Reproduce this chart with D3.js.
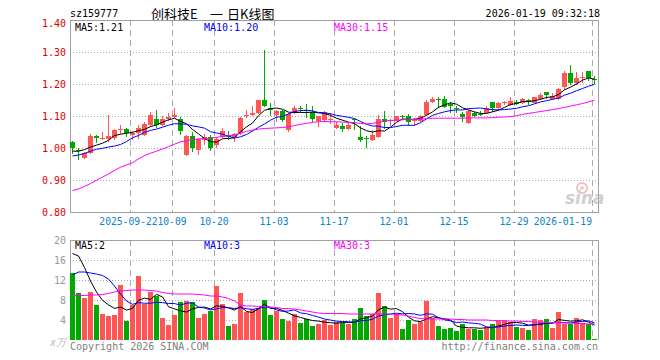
<!DOCTYPE html>
<html>
<head>
<meta charset="utf-8">
<script src="https://cdn.jsdelivr.net/npm/d3@7/dist/d3.min.js"></script>
<style>
html,body{margin:0;padding:0;background:#fff;}
svg{display:block;}
text{font-family:"DejaVu Sans Mono",monospace;font-size:10px;}
</style>
</head>
<body>
<svg id="chart" width="660" height="360"></svg>
<script>
// ---------------- DATA ----------------
const dates = [
"2025-09-08","2025-09-09","2025-09-10","2025-09-11","2025-09-12","2025-09-15","2025-09-16","2025-09-17","2025-09-18","2025-09-19",
"2025-09-22","2025-09-23","2025-09-24","2025-09-25","2025-09-26","2025-09-29","2025-09-30","2025-10-09","2025-10-10","2025-10-13",
"2025-10-14","2025-10-15","2025-10-16","2025-10-17","2025-10-20","2025-10-21","2025-10-22","2025-10-23","2025-10-24","2025-10-27",
"2025-10-28","2025-10-29","2025-10-30","2025-10-31","2025-11-03","2025-11-04","2025-11-05","2025-11-06","2025-11-07","2025-11-10",
"2025-11-11","2025-11-12","2025-11-13","2025-11-14","2025-11-17","2025-11-18","2025-11-19","2025-11-20","2025-11-21","2025-11-24",
"2025-11-25","2025-11-26","2025-11-27","2025-11-28","2025-12-01","2025-12-02","2025-12-03","2025-12-04","2025-12-05","2025-12-08",
"2025-12-09","2025-12-10","2025-12-11","2025-12-12","2025-12-15","2025-12-16","2025-12-17","2025-12-18","2025-12-19","2025-12-22",
"2025-12-23","2025-12-24","2025-12-25","2025-12-26","2025-12-29","2025-12-30","2025-12-31","2026-01-05","2026-01-06","2026-01-07",
"2026-01-08","2026-01-09","2026-01-12","2026-01-13","2026-01-14","2026-01-15","2026-01-16","2026-01-19"];

const open = [1.018,0.995,0.970,0.984,1.038,1.029,1.028,1.030,1.055,1.060,
1.040,1.047,1.041,1.072,1.090,1.072,1.090,1.097,1.090,0.978,
1.037,0.994,1.025,1.033,1.010,1.035,1.040,1.035,1.046,1.100,
1.103,1.108,1.150,1.125,1.103,1.117,1.056,1.110,1.126,1.118,
1.114,1.085,1.088,1.087,1.062,1.069,1.058,1.090,1.035,1.030,
1.025,1.035,1.090,1.083,1.085,1.100,1.100,1.083,1.085,1.103,
1.143,1.153,1.152,1.137,1.125,1.106,1.077,1.110,1.105,1.110,
1.145,1.124,1.140,1.134,1.145,1.140,1.149,1.142,1.152,1.176,
1.152,1.152,1.192,1.235,1.204,1.220,1.241,1.217];
const high = [1.022,1.000,0.988,1.043,1.040,1.050,1.103,1.060,1.072,1.062,
1.053,1.072,1.080,1.113,1.120,1.100,1.110,1.124,1.098,1.040,
1.051,1.030,1.045,1.040,1.035,1.062,1.054,1.048,1.097,1.120,
1.130,1.150,1.306,1.140,1.120,1.120,1.110,1.130,1.130,1.138,
1.131,1.100,1.117,1.110,1.082,1.077,1.077,1.093,1.069,1.037,
1.056,1.103,1.117,1.090,1.100,1.103,1.106,1.093,1.104,1.150,
1.160,1.158,1.162,1.145,1.130,1.113,1.120,1.114,1.117,1.130,
1.145,1.145,1.148,1.160,1.150,1.155,1.152,1.160,1.171,1.176,
1.171,1.186,1.242,1.259,1.238,1.236,1.241,1.224];
const low = [0.980,0.962,0.966,0.980,1.015,1.025,1.020,1.025,1.045,1.035,
1.025,1.028,1.037,1.065,1.062,1.070,1.083,1.093,1.040,0.975,
0.989,0.978,1.010,0.992,1.000,1.030,1.025,1.020,1.040,1.095,
1.100,1.105,1.128,1.100,1.082,1.080,1.050,1.106,1.113,1.093,
1.082,1.065,1.082,1.075,1.058,1.051,1.056,1.056,1.020,0.999,
1.022,1.030,1.058,1.068,1.083,1.090,1.069,1.068,1.080,1.100,
1.140,1.124,1.124,1.110,1.108,1.082,1.075,1.098,1.100,1.106,
1.114,1.119,1.134,1.131,1.134,1.138,1.134,1.140,1.150,1.152,
1.150,1.150,1.180,1.197,1.197,1.204,1.210,1.200];
const close = [1.001,0.990,0.984,1.038,1.030,1.032,1.038,1.056,1.060,1.046,
1.046,1.063,1.076,1.103,1.072,1.090,1.098,1.103,1.052,1.037,
1.000,1.027,1.035,1.000,1.027,1.054,1.035,1.044,1.095,1.104,
1.110,1.150,1.132,1.118,1.117,1.088,1.106,1.124,1.122,1.115,
1.091,1.100,1.114,1.090,1.072,1.059,1.072,1.087,1.025,1.027,
1.041,1.090,1.080,1.087,1.100,1.097,1.080,1.087,1.100,1.145,
1.152,1.150,1.129,1.130,1.122,1.098,1.117,1.100,1.102,1.124,
1.124,1.142,1.143,1.148,1.138,1.152,1.146,1.158,1.166,1.166,
1.162,1.183,1.235,1.204,1.218,1.222,1.218,1.213];

const ma5 = [0.990,0.990,0.995,1.003,1.009,1.015,1.024,1.039,1.043,1.046,
1.049,1.054,1.058,1.067,1.072,1.081,1.088,1.093,1.083,1.076,
1.058,1.044,1.030,1.020,1.018,1.029,1.030,1.032,1.051,1.066,
1.078,1.101,1.118,1.123,1.125,1.121,1.112,1.111,1.111,1.111,
1.112,1.110,1.108,1.102,1.093,1.087,1.081,1.076,1.063,1.054,
1.050,1.054,1.053,1.065,1.080,1.091,1.089,1.090,1.093,1.102,
1.113,1.127,1.135,1.141,1.137,1.126,1.119,1.113,1.108,1.108,
1.113,1.118,1.127,1.136,1.139,1.145,1.145,1.148,1.152,1.158,
1.160,1.167,1.182,1.190,1.200,1.212,1.219,1.215];
const ma10 = [0.975,0.978,0.983,0.990,0.996,0.999,1.003,1.006,1.011,1.020,
1.032,1.039,1.049,1.055,1.059,1.065,1.071,1.076,1.075,1.074,
1.069,1.066,1.062,1.051,1.047,1.043,1.037,1.031,1.035,1.042,
1.053,1.065,1.075,1.087,1.096,1.099,1.106,1.114,1.117,1.118,
1.116,1.111,1.110,1.107,1.102,1.099,1.096,1.092,1.083,1.074,
1.069,1.068,1.064,1.064,1.067,1.071,1.071,1.071,1.079,1.091,
1.102,1.108,1.113,1.117,1.119,1.119,1.123,1.124,1.125,1.122,
1.120,1.119,1.120,1.122,1.124,1.129,1.132,1.138,1.144,1.148,
1.152,1.156,1.165,1.171,1.179,1.186,1.193,1.199];
const ma30 = [0.867,0.872,0.880,0.889,0.899,0.909,0.919,0.930,0.940,0.947,
0.954,0.966,0.976,0.984,0.990,0.997,1.004,1.012,1.019,1.023,
1.026,1.028,1.030,1.031,1.033,1.036,1.038,1.041,1.046,1.052,
1.056,1.059,1.061,1.062,1.063,1.064,1.066,1.070,1.074,1.077,
1.080,1.082,1.083,1.082,1.082,1.081,1.080,1.079,1.077,1.075,
1.077,1.080,1.084,1.086,1.087,1.088,1.089,1.089,1.090,1.092,
1.093,1.093,1.093,1.093,1.093,1.093,1.094,1.094,1.094,1.094,
1.095,1.096,1.097,1.098,1.101,1.105,1.108,1.111,1.114,1.117,
1.120,1.123,1.127,1.131,1.135,1.139,1.144,1.150];

// volume, in 万
const volume = [13.5,9.4,8.5,9.6,7.0,5.2,4.8,5.0,11.0,3.9,
7.0,12.8,7.2,9.7,8.9,4.5,3.0,5.0,7.7,7.8,
7.7,4.4,5.3,5.9,10.8,7.3,2.8,3.2,9.5,5.7,
6.3,6.5,8.0,5.0,5.9,4.2,3.8,5.2,3.5,4.2,
2.8,3.2,4.1,3.0,3.7,3.5,3.3,4.2,6.4,4.8,
5.3,9.5,6.8,4.5,5.3,2.2,4.0,3.2,3.7,7.9,
4.5,2.8,2.3,2.5,1.8,3.3,2.3,2.3,2.0,2.5,
3.3,3.9,4.0,3.7,2.7,2.5,2.0,4.2,4.0,4.2,
2.5,5.6,3.3,3.3,4.5,3.5,3.3,0.2];
const vma5 = [17.3,16.8,14.5,11.8,9.6,7.94,7.02,6.32,6.6,5.98,
6.34,7.94,8.38,8.12,9.12,8.62,6.66,6.22,5.82,5.6,
6.24,6.52,6.58,6.22,6.82,6.74,6.42,6.0,6.72,5.7,
5.5,6.24,7.2,6.3,6.34,5.92,5.38,4.82,4.52,4.18,
3.9,3.78,3.56,3.46,3.36,3.5,3.52,3.54,4.22,4.44,
4.8,6.04,6.56,6.18,6.28,5.66,4.56,3.84,3.68,4.2,
4.66,4.42,4.24,4.0,2.78,2.54,2.44,2.44,2.34,2.48,
2.48,2.8,3.14,3.48,3.52,3.36,2.98,3.02,3.08,3.38,
3.38,4.1,3.92,3.78,3.84,4.04,3.58,2.96];
const vma10 = [13.0,13.6,13.6,13.4,13.2,12.9,12.2,10.8,9.2,7.79,
7.14,7.48,7.35,7.36,7.55,7.48,7.3,7.3,6.97,7.36,
7.43,6.59,6.4,6.02,6.21,6.49,6.47,6.29,6.47,6.26,
6.12,6.33,6.6,6.51,6.02,5.71,5.81,6.01,5.41,5.26,
4.91,4.58,4.19,3.99,3.77,3.7,3.65,3.55,3.84,3.9,
4.15,4.78,5.05,5.2,5.36,5.23,5.3,5.2,4.93,5.24,
5.16,4.49,4.04,3.84,3.49,3.6,3.43,3.34,3.17,2.63,
2.51,2.62,2.79,2.91,3.0,2.92,2.89,3.08,3.28,3.45,
3.37,3.54,3.47,3.43,3.61,3.71,3.84,3.44];
const vma30 = [8.9,8.9,8.9,9.0,9.0,9.1,9.3,9.6,9.8,9.9,
10.0,10.0,10.0,9.9,9.8,9.5,9.3,9.2,9.2,9.2,
9.2,9.1,9.0,8.8,8.8,8.6,8.3,7.8,7.0,6.8,
6.8,6.7,6.7,6.6,6.5,6.3,6.3,6.2,6.0,5.8,
5.6,5.4,5.3,5.3,5.3,5.3,5.2,5.2,5.2,5.2,
5.2,5.2,5.2,5.2,5.1,5.0,4.8,4.5,4.3,4.2,
4.2,4.2,4.2,4.2,4.1,4.1,4.0,4.0,4.0,4.0,
3.9,3.9,3.8,3.8,3.8,3.7,3.7,3.6,3.6,3.5,
3.5,3.5,3.4,3.4,3.3,3.3,3.2,3.2];

const priceTicks = [0.80,0.90,1.00,1.10,1.20,1.30,1.40];
const volTicks = [4,8,12,16,20];
const tickDates = ["2025-09-22","2025-10-09","2025-10-20","2025-11-03","2025-11-17","2025-12-01","2025-12-15","2025-12-29","2026-01-19"];
const tickLabels = ["2025-09-22","10-09","10-20","11-03","11-17","12-01","12-15","12-29","2026-01-19"];

const headerCode = "sz159777";
const headerTitleParts = ["创科技E", "一", "日K线图"];
const headerTime = "2026-01-19 09:32:18";
const priceMALabels = ["MA5:1.21","MA10:1.20","MA30:1.15"];
const volMALabels = ["MA5:2","MA10:3","MA30:3"];
const volUnit = "x万";
const footerLeft = "Copyright 2026 SINA.COM";
const footerRight = "http://finance.sina.com.cn";

// ---------------- LAYOUT ----------------
const L = 70, R = 598;
const pTop = 20, pBot = 212;
const vTop = 240, vBot = 340;
const UP = "#ff5555", DOWN = "#00a800";
const GRID = "#aaaaaa", FRAME = "#a0a0a0";
const maColors = ["#000000", "#0000ff", "#ff00ff"];

const svg = d3.select("#chart");
const n = dates.length;
const x = d3.scaleLinear().domain([0, n]).range([L, R]);
const bw = 5;
const cx = i => x(i) + bw / 2;
const yP = d3.scaleLinear().domain([0.8, 1.4]).range([pBot, pTop]);
const yV = d3.scaleLinear().domain([0, 20]).range([vBot, vTop]);
const tickIdx = tickDates.map(d => dates.indexOf(d));

// header
svg.append("text").attr("x", 70).attr("y", 17).attr("fill", "#000").text(headerCode);
const title = svg.append("text").attr("y", 19).attr("fill", "#000")
  .style("font-family", "'Noto Sans CJK SC', sans-serif").style("font-size", "13px");
const titleX = [151, 210, 227];
headerTitleParts.forEach((t, k) => title.append("tspan").attr("x", titleX[k]).text(t));
svg.append("text").attr("x", 600).attr("y", 17).attr("text-anchor", "end").attr("fill", "#000").text(headerTime);

// ---------- price pane grid ----------
const gP = svg.append("g").attr("shape-rendering", "crispEdges");
gP.selectAll("line.h").data(priceTicks.filter(t => t > 0.85 && t < 1.35)).join("line")
  .attr("x1", L).attr("x2", R).attr("y1", d => Math.round(yP(d)) + 0.5).attr("y2", d => Math.round(yP(d)) + 0.5)
  .attr("stroke", GRID).attr("stroke-dasharray", "1,2");
gP.selectAll("line.v").data(tickIdx).join("line")
  .attr("x1", d => x(d) + 0.5).attr("x2", d => x(d) + 0.5).attr("y1", pTop).attr("y2", pBot)
  .attr("stroke", GRID).attr("stroke-dasharray", "6,4");
gP.append("path").attr("d", `M${L + 0.5},${pBot}V${pTop + 0.5}H${R + 0.5}V${pBot}`)
  .attr("fill", "none").attr("stroke", FRAME).attr("stroke-width", 1.5);
gP.append("line").attr("x1", L).attr("x2", R + 1).attr("y1", pBot + 0.5).attr("y2", pBot + 0.5)
  .attr("stroke", FRAME).attr("stroke-width", 1.5);

// price labels
svg.selectAll("text.pl").data(priceTicks).join("text")
  .attr("x", 66).attr("y", d => Math.max(yP(d) + 4, 27)).attr("text-anchor", "end")
  .attr("fill", "#e00000").text(d => d.toFixed(2));

// date labels: centred on their gridline; the first is nudged left, the last is right-aligned to stay in frame
const last = tickIdx.length - 1;
svg.selectAll("text.dl").data(tickIdx).join("text")
  .attr("x", (d, k) => x(d) + (k === 0 ? -1.5 : 0)).attr("y", 225)
  .attr("text-anchor", (d, k) => k === last ? "end" : "middle")
  .style("font-size", "9.7px")
  .attr("fill", "#0a84cc").text((d, k) => tickLabels[k]);

// watermark
const wm = svg.append("g").attr("opacity", 0.55);
wm.append("circle").attr("cx", 582).attr("cy", 188).attr("r", 5).attr("fill", "none").attr("stroke", "#e88").attr("stroke-width", 2);
wm.append("circle").attr("cx", 582).attr("cy", 188).attr("r", 1.8).attr("fill", "#e88");
wm.append("text").attr("x", 565).attr("y", 204).attr("fill", "#aaa")
  .style("font-family", "'DejaVu Sans', sans-serif").style("font-size", "17px")
  .style("font-style", "italic").style("font-weight", "bold").text("sina");

// candles
const idx = d3.range(n);
const gC = svg.append("g").attr("shape-rendering", "crispEdges");
const colorOf = i => close[i] >= open[i] ? UP : DOWN;
gC.selectAll("line.w").data(idx).join("line")
  .attr("x1", i => x(i) + 2.5).attr("x2", i => x(i) + 2.5)
  .attr("y1", i => yP(high[i])).attr("y2", i => yP(low[i]))
  .attr("stroke", colorOf);
gC.selectAll("rect.b").data(idx).join("rect")
  .attr("x", i => x(i)).attr("width", bw)
  .attr("y", i => yP(Math.max(open[i], close[i])))
  .attr("height", i => Math.max(1, Math.abs(yP(open[i]) - yP(close[i]))))
  .attr("fill", colorOf);

// MA lines (price)
const lineP = d3.line().x((d, i) => cx(i)).y(d => yP(d));
[ma5, ma10, ma30].forEach((arr, k) => {
  svg.append("path").attr("d", lineP(arr)).attr("fill", "none")
    .attr("stroke", maColors[k]).attr("stroke-width", 1);
});

const maLabX = [75, 204, 334];
priceMALabels.forEach((t, k) => svg.append("text").attr("x", maLabX[k]).attr("y", 31).attr("fill", maColors[k]).text(t));

// ---------- volume pane ----------
const gV = svg.append("g").attr("shape-rendering", "crispEdges");
gV.selectAll("line.h").data(volTicks.filter(t => t < 20)).join("line")
  .attr("x1", L).attr("x2", R).attr("y1", d => Math.round(yV(d)) + 0.5).attr("y2", d => Math.round(yV(d)) + 0.5)
  .attr("stroke", GRID).attr("stroke-dasharray", "1,2");
gV.selectAll("line.v").data(tickIdx).join("line")
  .attr("x1", d => x(d) + 0.5).attr("x2", d => x(d) + 0.5).attr("y1", vTop).attr("y2", vBot)
  .attr("stroke", GRID).attr("stroke-dasharray", "6,4");
gV.append("path").attr("d", `M${L + 0.5},${vBot}V${vTop + 0.5}H${R + 0.5}V${vBot}`)
  .attr("fill", "none").attr("stroke", FRAME).attr("stroke-width", 1.5);

gV.selectAll("rect.vb").data(idx).join("rect")
  .attr("x", i => x(i)).attr("width", bw)
  .attr("y", i => yV(volume[i])).attr("height", i => yV(0) - yV(volume[i]))
  .attr("fill", colorOf);

const lineV = d3.line().x((d, i) => cx(i)).y(d => yV(d));
[vma5, vma10, vma30].forEach((arr, k) => {
  svg.append("path").attr("d", lineV(arr)).attr("fill", "none")
    .attr("stroke", maColors[k]).attr("stroke-width", 1);
});

volMALabels.forEach((t, k) => svg.append("text").attr("x", maLabX[k]).attr("y", 249).attr("fill", maColors[k]).text(t));

svg.selectAll("text.vl").data(volTicks).join("text")
  .attr("x", 66).attr("y", d => yV(d) + 4).attr("text-anchor", "end")
  .attr("fill", "#999").text(d => d);
svg.append("text").attr("x", 66).attr("y", 346).attr("text-anchor", "end").attr("fill", "#bbb")
  .style("font-style", "italic").text(volUnit);

// footer
svg.append("text").attr("x", 70).attr("y", 350).attr("fill", "#808080").text(footerLeft);
svg.append("text").attr("x", 598).attr("y", 350).attr("text-anchor", "end").attr("fill", "#808080").text(footerRight);
</script>
</body>
</html>
